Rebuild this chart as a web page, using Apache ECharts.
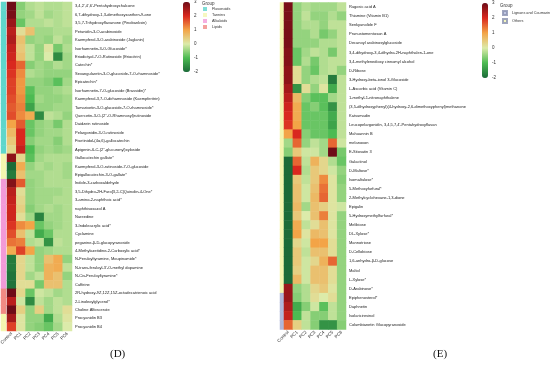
<!DOCTYPE html>
<html><head><meta charset="utf-8">
<script src="https://cdn.jsdelivr.net/npm/echarts@6/dist/echarts.min.js"></script>
<style>html,body{margin:0;padding:0;background:#fff}#c{width:550px;height:370px}</style>
</head><body><div id="c"></div>
<script>
const columns = ['Control','PC1','PC2','PC3','PC4','PC5','PC6'];

const rowsD = [
"3,4,2',4',6'-Pentahydroxychalcone",
"6,7-dihydroxy-1,3-dimethoxyxanthen-9-one",
"3,5,7-Trihydroxyflavanone (Pinobanksin)",
"Petunidin-3-O-arabinoside",
"Kaempferol-3-O-arabinoside (Juglanin)",
"Isorhamnetin-3-O-Glucoside*",
"Eriodictyol-7-O-Rutinoside (Eriocitrin)",
"Catechin*",
"Sexangularetin-3-O-glucoside-7-O-rhamnoside*",
"Epicatechin*",
"Isorhamnetin-7-O-glucoside (Brassidin)*",
"Kaempferol-3,7-O-dirhamnoside (Kaempferitrin)",
"Tamarixetin-3-O-glucoside-7-O-rhamnoside*",
"Quercetin-3-O-(2''-O-Rhamnosyl)rutinoside",
"Daidzein rutinoside",
"Pelargonidin-3-O-rutinoside",
"Fisetinidol-(4\u03b1,6)-gallocatechin",
"Apigenin-6-C-(2''-glucuronyl)xyloside",
"Gallocatechin gallate*",
"Kaempferol-3-O-rutinoside-7-O-glucoside",
"Epigallocatechin-3-O-gallate*",
"Indole-3-carboxaldehyde",
"3,5-Dihydro-2H-Furo[3,2-C]Quinolin-4-One*",
"3-amino-2-naphthoic acid*",
"naphthisoxazol A",
"Nareedine",
"3-Indoleacrylic acid*",
"Cyclamine",
"peganine-\u03b2-D-glucopyranoside",
"4-Methylazetidine-2-Carboxylic acid*",
"N-Feruloyltyramine, Moupinamide*",
"N-trans-feruloyl-3'-O-methyl dopamine",
"N-Cis-Feruloyltyramine*",
"Caffeine",
"2R-hydroxy-9Z,12Z,15Z-octadecatrienoic acid",
"2-Linoleoylglycerol*",
"Choline Alfoscerate",
"Procyanidin B3",
"Procyanidin B4"
];
const valuesD = [
[3.0,-0.6,-0.3,-0.2,-0.3,-0.3,-0.2],
[2.9,-0.5,-0.4,-0.2,-0.4,-0.3,-0.2],
[2.6,-0.8,-0.3,-0.3,-0.2,-0.3,-0.2],
[2.3,0.2,0.6,-0.4,-0.4,-0.3,-0.3],
[2.4,0.6,-0.5,-0.4,-0.5,-0.2,-0.4],
[2.2,0.5,-0.2,-0.5,0.1,-0.7,-0.3],
[2.1,0.6,-0.2,-0.5,0.0,-1.6,-0.4],
[2.0,1.5,-0.6,-0.4,-0.5,-0.3,-0.4],
[1.9,1.2,-0.3,-0.4,-0.5,-0.5,-0.5],
[1.8,1.1,-0.5,-0.5,-0.6,-0.9,-0.4],
[1.8,1.1,-0.9,-0.5,-0.5,-0.4,-0.3],
[1.7,1.2,-1.0,-0.4,-0.5,-0.5,-0.4],
[1.6,1.3,-1.3,-0.5,-0.5,-0.4,-0.4],
[1.7,1.2,0.9,-1.6,-0.2,-0.3,-0.5],
[1.0,1.6,-0.8,-0.5,-0.4,-0.7,-0.3],
[0.7,2.0,-0.8,-0.5,-0.4,-0.4,-0.3],
[0.5,2.0,-0.6,-0.4,-0.4,-0.6,-0.3],
[0.3,2.2,-1.0,-0.5,-0.4,-0.5,-0.4],
[2.7,0.3,-0.9,-0.4,-0.3,-0.3,-0.3],
[-2.0,0.9,-0.5,-0.3,-0.4,-0.3,-0.4],
[-1.8,0.6,-0.4,-0.4,-0.3,-0.3,-0.4],
[2.8,1.6,-0.5,-0.4,-0.3,-0.3,-0.3],
[2.3,0.2,-0.5,-0.4,-0.4,-0.4,-0.3],
[2.2,0.3,-0.5,-0.4,-0.4,-0.3,-0.3],
[2.1,0.4,-0.6,-0.4,-0.3,-0.4,-0.3],
[2.1,0.2,-0.4,-1.7,-0.4,-0.4,-0.3],
[1.9,1.2,1.0,-0.8,-0.5,-0.4,-0.3],
[1.7,0.6,-0.2,-1.2,-0.8,-0.3,-0.3],
[1.4,1.3,-0.3,-0.2,-1.5,-0.2,-0.3],
[0.9,1.8,1.0,-0.5,-0.4,-0.3,-0.3],
[-1.8,0.3,-0.2,-0.5,0.6,0.9,-0.5],
[-1.8,0.3,-0.2,-0.5,0.8,0.9,-0.2],
[-1.9,0.3,-0.4,-0.2,0.8,0.6,-0.5],
[-1.9,0.2,0.2,-0.7,0.6,0.6,-0.3],
[3.0,0.3,-0.8,-0.1,-0.2,-0.4,-0.3],
[2.3,-0.1,-1.6,-0.2,-0.4,-0.2,-0.3],
[3.0,0.4,-0.5,0.4,-0.4,-0.2,0.2],
[2.5,0.1,-0.5,-0.5,-1.2,-0.3,0.1],
[1.8,0.1,-0.5,-0.6,-0.8,-0.4,0.0]
];
// 0 Flavonoids, 1 Tannins, 2 Alkaloids, 3 Lipids
const groupsD = [0,0,0,0,0,0,0,0,0,0,0,0,0,0,0,0,0,0,1,1,1,2,2,2,2,2,2,2,2,2,2,2,2,2,3,3,3,1,1];
const groupNamesD = ['Flavonoids','Tannins','Alkaloids','Lipids'];
const groupColorsD = ['#5fd6cc','#f4f6b0','#f29ad8','#f08a84'];

const rowsE = [
"Rugosic acid A",
"Thiamine (Vitamin B1)",
"Senkyunolide F",
"Prunustomentosan A",
"Decanoyl arabinosylglucoside",
"3,4-dihydroxy-3,4-dihydro-2H-naphthalen-1-one",
"3,4-methylenedioxy cinnamyl alcohol",
"D-Ribose",
"3-Hydroxy-beta-ionol 3-Glucoside",
"L-Ascorbic acid (Vitamin C)",
"1-methyl-1-nitronaphthalene",
"(3,5-dihydroxyphenyl)(4-hydroxy-2,6-dimethoxyphenyl)methanone",
"Katsumadin",
"Leucopelargonidin, 3,4,5,7,4'-Pentahydroxyflavan",
"Mahuannin B",
"melanoxon",
"E-Sitosatin 3",
"Galactinol",
"D-Maltose*",
"Isomaltulose*",
"5-Methoxyfurfural*",
"2-Methylcyclohexane-1,3-dione",
"Epigalin",
"5-Hydroxymethylfurfural*",
"Melibiose",
"DL-Xylose*",
"Mannotriose",
"D-Cellobiose",
"1,6-anhydro-\u03b2-D-glucose",
"Maltol",
"L-Xylose*",
"D-Arabinose*",
"Epiphenosterol*",
"Daphnetin",
"Isolariciresinol",
"Columbianetin Glucopyranoside"
];
const valuesE = [
[2.9,-0.5,-0.3,-0.4,-0.4,-0.4,-0.2],
[2.9,-0.5,-0.2,-0.5,-0.5,-0.3,-0.5],
[2.9,-0.5,-0.3,-0.3,-0.5,-0.2,-0.2],
[2.9,-0.5,-0.5,-0.3,-0.7,-0.5,-0.2],
[2.9,-0.5,-0.5,-0.5,-0.3,-0.3,-0.2],
[2.8,-0.8,-0.4,-0.2,-0.3,-0.7,-0.2],
[2.8,-0.8,-0.3,-0.7,-0.3,-0.2,-0.2],
[2.7,0.2,-0.5,-0.8,-0.3,-0.2,-0.5],
[2.7,0.2,-0.5,-0.3,-0.2,-1.8,-0.2],
[2.5,-1.5,0.2,-0.5,0.1,-1.2,-0.2],
[2.3,0.7,-0.6,-0.9,-0.9,-0.4,-0.2],
[2.1,0.9,-0.8,-0.6,-0.9,-1.5,-0.2],
[2.0,0.9,-0.8,-0.8,-0.8,-1.2,-0.2],
[1.9,1.0,-0.8,-0.8,-0.8,-1.3,-0.2],
[1.0,2.0,-0.6,-0.8,-0.8,-1.0,-0.2],
[-0.4,1.5,-0.5,-0.2,-0.4,1.5,-0.1],
[-0.6,0.5,-0.1,-0.1,-0.4,3.0,-0.7],
[-2.0,1.5,-0.2,0.8,0.3,-0.3,-0.8],
[-2.0,2.0,-0.3,0.5,0.3,-0.1,-0.5],
[-2.0,0.5,-0.2,0.5,1.2,0.1,-0.6],
[-2.0,0.6,-0.1,0.6,1.4,0.1,-0.5],
[-2.0,0.6,-0.1,0.7,1.5,0.1,-0.5],
[-2.0,0.7,-0.4,0.6,0.4,0.1,-0.1],
[-2.0,0.5,0.0,0.6,1.3,0.1,-0.5],
[-2.0,0.9,-0.2,0.2,0.6,0.1,-0.5],
[-2.0,1.0,0.1,0.7,0.6,0.1,-0.5],
[-2.0,0.3,-0.1,1.0,1.0,0.2,-0.5],
[-2.0,0.5,-0.2,0.6,0.6,0.2,-0.5],
[-2.0,0.5,-0.1,0.3,0.8,1.5,-0.5],
[-2.0,0.4,-0.1,0.6,0.6,0.2,-0.5],
[-2.0,0.7,-0.1,0.6,0.6,0.2,-0.5],
[2.6,-0.5,-0.3,0.3,0.5,0.1,-0.5],
[2.6,-0.6,-0.3,0.2,0.0,0.2,-0.5],
[2.4,-1.2,-0.6,-0.1,-0.9,-0.2,-0.5],
[2.2,-1.0,-0.2,-0.6,-0.6,-0.2,-0.5],
[1.5,0.4,-0.2,-0.6,-1.5,-1.5,-0.6]
];
// 0 Lignans and Coumarins, 1 Others
const groupsE = [1,1,1,1,1,1,1,1,1,1,1,1,1,1,1,1,1,1,1,1,1,1,1,1,1,1,1,1,1,1,1,1,0,0,0,0];
const groupNamesE = ['Lignans and Coumarins','Others'];
const groupColorsE = ['#b0b8da','#f4f6b0'];

const colorbarTicks = [-2,-1,0,1,2,3];
const heatColors = ['#1b6b38','#4cbb52','#dcebaa','#f3a447','#d9281f','#6e0c17'];

const FONT = 'Liberation Sans';
function cells(vals){const out=[];vals.forEach((r,i)=>r.forEach((v,j)=>out.push([j,i,v])));return out;}
function strip(g){return g.map((v,i)=>[0,i,v]);}

const chart = echarts.init(document.getElementById('c'), null, {renderer:'canvas'});

const hidCat = (data, gi, inv) => ({type:'category', data, gridIndex:gi, inverse:!!inv, show:false});
const G = o => Object.assign({outerBoundsMode:'none', containLabel:false}, o);
const grids = [
  G({left:1, top:2, width:5, height:329}),      // 0 D strip
  G({left:7, top:2, width:65, height:329}),     // 1 D heat
  G({left:183, top:2, width:7, height:70}),     // 2 D colorbar labels
  G({left:280, top:2.5, width:4, height:327}),  // 3 E strip
  G({left:284, top:2.5, width:62, height:327}), // 4 E heat
  G({left:482, top:3, width:6, height:75})      // 5 E colorbar labels
];
const xAxes = [
  hidCat(['g'],0),
  {type:'category', data:columns, gridIndex:1, position:'bottom', axisLine:{show:false}, axisTick:{show:false},
   axisLabel:{rotate:45, fontSize:4.5, margin:2, color:'#333', fontFamily:FONT, interval:0}},
  hidCat(['c'],2),
  hidCat(['g'],3),
  {type:'category', data:columns, gridIndex:4, position:'bottom', axisLine:{show:false}, axisTick:{show:false},
   axisLabel:{rotate:45, fontSize:4.5, margin:2, color:'#333', fontFamily:FONT, interval:0}},
  hidCat(['c'],5)
];
const tickAxis = gi => ({type:'value', gridIndex:gi, min:colorbarTicks[0], max:colorbarTicks[colorbarTicks.length-1], interval:1, position:'right',
  axisLine:{show:false}, axisTick:{show:false}, splitLine:{show:false},
  axisLabel:{fontSize:4.5, margin:4, color:'#333', fontFamily:FONT}});
const yAxes = [
  hidCat(rowsD,0,true),
  {type:'category', data:rowsD, gridIndex:1, inverse:true, position:'right', axisLine:{show:false}, axisTick:{show:false},
   axisLabel:{fontSize:4, margin:3, color:'#222', fontFamily:FONT, interval:0}},
  tickAxis(2),
  hidCat(rowsE,3,true),
  {type:'category', data:rowsE, gridIndex:4, inverse:true, position:'right', axisLine:{show:false}, axisTick:{show:false},
   axisLabel:{fontSize:4, margin:3, color:'#222', fontFamily:FONT, interval:0}},
  tickAxis(5)
];

const series = [
  {type:'heatmap', xAxisIndex:0, yAxisIndex:0, data:strip(groupsD)},
  {type:'heatmap', xAxisIndex:1, yAxisIndex:1, data:cells(valuesD)},
  {type:'heatmap', xAxisIndex:3, yAxisIndex:3, data:strip(groupsE)},
  {type:'heatmap', xAxisIndex:4, yAxisIndex:4, data:cells(valuesE)}
];
groupNamesD.forEach((n,i)=>series.push({type:'scatter', name:n, xAxisIndex:0, yAxisIndex:0, data:[], itemStyle:{color:groupColorsD[i]}}));
groupNamesE.forEach((n,i)=>series.push({type:'scatter', name:n, xAxisIndex:3, yAxisIndex:3, data:[], itemStyle:{color:groupColorsE[i], borderColor:'#8890b0', borderWidth:0.3}}));

const legendBase = {orient:'vertical', icon:'rect', itemWidth:4, itemHeight:4, itemGap:2, padding:0,
  textStyle:{fontSize:3.8, color:'#333', fontFamily:FONT}, selectedMode:false};

chart.setOption({
  animation:false,
  backgroundColor:'#fff',
  title:[
    {text:'Group', left:202, top:1, padding:0, textStyle:{fontSize:4.5, fontWeight:'normal', color:'#333', fontFamily:FONT}},
    {text:'Group', left:500, top:3, padding:0, textStyle:{fontSize:4.5, fontWeight:'normal', color:'#333', fontFamily:FONT}},
    {text:'(D)', left:110, top:349, padding:0, textStyle:{fontSize:11, fontWeight:'normal', color:'#111', fontFamily:'Liberation Serif'}},
    {text:'(E)', left:433, top:349, padding:0, textStyle:{fontSize:11, fontWeight:'normal', color:'#111', fontFamily:'Liberation Serif'}}
  ],
  legend:[
    Object.assign({}, legendBase, {left:203, top:7, data:groupNamesD}),
    Object.assign({}, legendBase, {left:502, top:10, data:groupNamesE})
  ],
  grid:grids, xAxis:xAxes, yAxis:yAxes,
  visualMap:[
    {type:'continuous', min:-2, max:3, seriesIndex:1, inRange:{color:heatColors}, calculable:false,
     left:183, top:2, itemWidth:7, itemHeight:70, padding:0, text:null, showLabel:false, hoverLink:false},
    {type:'continuous', min:-2, max:3, seriesIndex:3, inRange:{color:heatColors}, calculable:false,
     left:482, top:3, itemWidth:6, itemHeight:75, padding:0, text:null, showLabel:false, hoverLink:false},
    {type:'piecewise', show:false, seriesIndex:0, pieces:groupColorsD.map((c,i)=>({value:i, color:c}))},
    {type:'piecewise', show:false, seriesIndex:2, pieces:groupColorsE.map((c,i)=>({value:i, color:c}))}
  ],
  series:series
});
</script></body></html>
